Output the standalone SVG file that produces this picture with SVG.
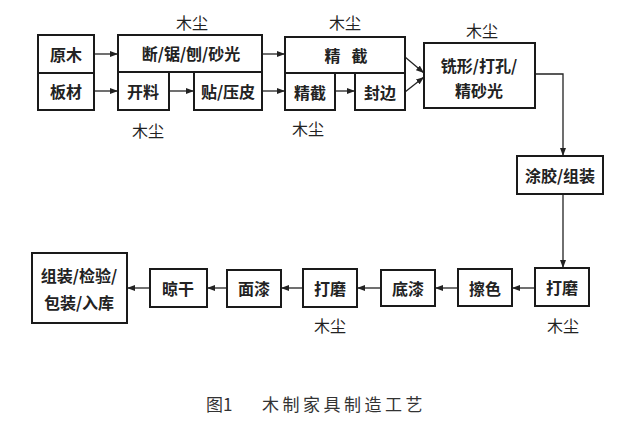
<svg xmlns="http://www.w3.org/2000/svg" width="640" height="427" viewBox="0 0 640 427">
<defs>
<style>
.box{fill:#fff;stroke:#1a1a1a;stroke-width:2}
.t{font-family:"Noto Sans CJK SC","Noto Sans",sans-serif;font-size:16px;font-weight:bold;fill:#222;text-anchor:middle;dominant-baseline:central}
.d{font-family:"Noto Sans CJK SC","Noto Sans",sans-serif;font-size:16px;fill:#222;text-anchor:middle;dominant-baseline:central}
.c{stroke:#222;stroke-width:1.3;fill:none;marker-end:url(#ah)}
.cap{font-family:"Noto Sans CJK SC","Noto Sans",sans-serif;font-size:17px;fill:#333;dominant-baseline:central}
</style>
<marker id="ah" viewBox="0 0 8 6" refX="8" refY="3" markerWidth="8" markerHeight="6" markerUnits="userSpaceOnUse" orient="auto">
<path d="M0,0 L8,3 L0,6 Z" fill="#222"/>
</marker>
</defs>
<rect width="640" height="427" fill="#fff"/>
<g id="connectors">
<line class="c" x1="94" y1="54" x2="118" y2="54"/>
<line class="c" x1="94" y1="91" x2="118" y2="91"/>
<line class="c" x1="169" y1="91" x2="194" y2="91"/>
<line class="c" x1="262" y1="54" x2="285" y2="54"/>
<line class="c" x1="262" y1="91" x2="285" y2="91"/>
<line class="c" x1="335" y1="91" x2="355" y2="91"/>
<line class="c" x1="405" y1="57" x2="424" y2="73"/>
<line class="c" x1="405" y1="92" x2="424" y2="77"/>
<polyline class="c" points="535,74 563,74 563,156"/>
<line class="c" x1="563" y1="194" x2="563" y2="268"/>
<line class="c" x1="535" y1="288" x2="512" y2="288"/>
<line class="c" x1="458" y1="288" x2="435" y2="288"/>
<line class="c" x1="381" y1="288" x2="357" y2="288"/>
<line class="c" x1="303" y1="288" x2="281" y2="288"/>
<line class="c" x1="227" y1="288" x2="207" y2="288"/>
<line class="c" x1="150" y1="288" x2="127" y2="288"/>
</g>
<g id="n-yuanmu"><rect class="box" x="38" y="35" width="56" height="38"/><text class="t" x="66" y="54">原木</text></g>
<g id="n-bancai"><rect class="box" x="38" y="73" width="56" height="37"/><text class="t" x="66" y="91">板材</text></g>
<g id="n-duan"><rect class="box" x="118" y="35" width="144" height="37"/><text class="t" x="191" y="53">断/锯/刨/砂光</text></g>
<g id="n-kailiao"><rect class="box" x="118" y="72" width="51" height="38"/><text class="t" x="143" y="91">开料</text></g>
<g id="n-tie"><rect class="box" x="194" y="72" width="68" height="38"/><text class="t" x="228" y="91">贴/压皮</text></g>
<g id="n-jingjie1"><rect class="box" x="285" y="37" width="120" height="36"/><text class="t" x="346" y="55" xml:space="preserve">精   截</text></g>
<g id="n-jingjie2"><rect class="box" x="285" y="73" width="50" height="37"/><text class="t" x="310" y="92">精截</text></g>
<g id="n-fengbian"><rect class="box" x="355" y="73" width="50" height="37"/><text class="t" x="380" y="92">封边</text></g>
<g id="n-xixing"><rect class="box" x="424" y="43" width="111" height="65"/><text class="t" x="479" y="65">铣形/打孔/</text><text class="t" x="479" y="90">精砂光</text></g>
<g id="n-tujiao"><rect class="box" x="517" y="156" width="86" height="38"/><text class="t" x="560" y="175">涂胶/组装</text></g>
<g id="n-damo1"><rect class="box" x="535" y="268" width="54" height="38"/><text class="t" x="562" y="287">打磨</text></g>
<g id="n-case"><rect class="box" x="458" y="269" width="54" height="37"/><text class="t" x="485" y="288">擦色</text></g>
<g id="n-diqi"><rect class="box" x="381" y="270" width="54" height="36"/><text class="t" x="408" y="288">底漆</text></g>
<g id="n-damo2"><rect class="box" x="303" y="269" width="54" height="38"/><text class="t" x="330" y="288">打磨</text></g>
<g id="n-mianqi"><rect class="box" x="227" y="270" width="54" height="37"/><text class="t" x="254" y="288">面漆</text></g>
<g id="n-liangan"><rect class="box" x="150" y="269" width="57" height="38"/><text class="t" x="178" y="288">晾干</text></g>
<g id="n-zuzhuang"><rect class="box" x="32" y="253" width="95" height="70"/><text class="t" x="79" y="275">组装/检验/</text><text class="t" x="79" y="302">包装/入库</text></g>
<g id="dust-labels">
<text class="d" x="192" y="22">木尘</text>
<text class="d" x="148" y="130">木尘</text>
<text class="d" x="345" y="22">木尘</text>
<text class="d" x="308" y="128">木尘</text>
<text class="d" x="482" y="30">木尘</text>
<text class="d" x="563" y="325">木尘</text>
<text class="d" x="330" y="325">木尘</text>
</g>
<g id="caption">
<text class="cap" x="206" y="403">图1</text>
<text class="cap" x="262" y="403" letter-spacing="3.5">木制家具制造工艺</text>
</g>
</svg>
